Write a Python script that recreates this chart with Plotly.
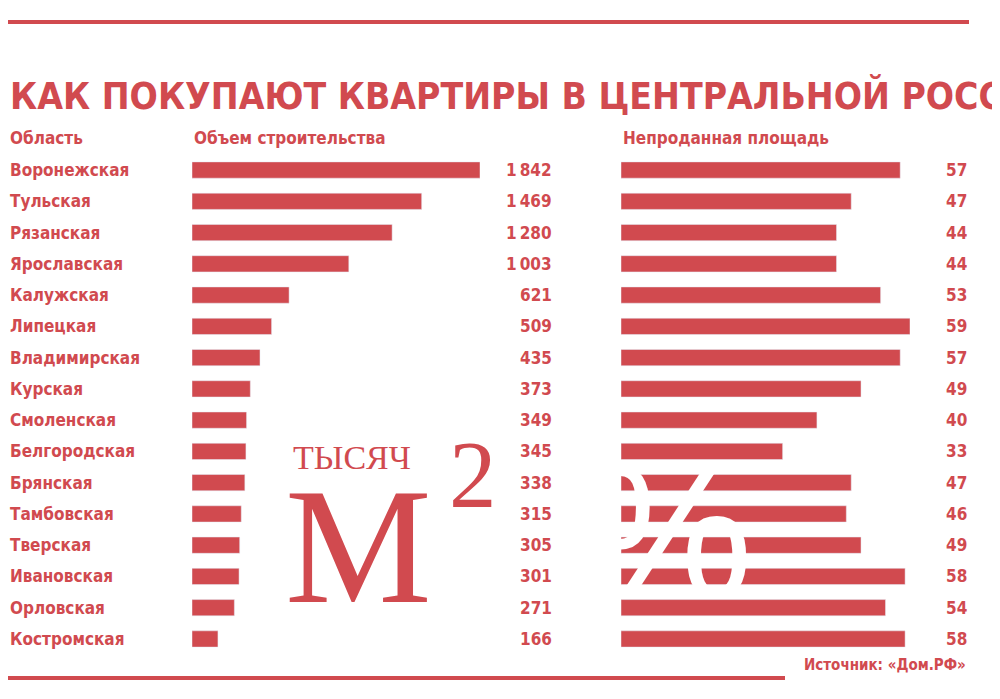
import plotly.graph_objects as go

RED = "#d14a4f"

regions = ["Воронежская", "Тульская", "Рязанская", "Ярославская", "Калужская", "Липецкая",
           "Владимирская", "Курская", "Смоленская", "Белгородская", "Брянская", "Тамбовская",
           "Тверская", "Ивановская", "Орловская", "Костромская"]
construction = [1842, 1469, 1280, 1003, 621, 509, 435, 373, 349, 345, 338, 315, 305, 301, 271, 166]
unsold = [57, 47, 44, 44, 53, 59, 57, 49, 40, 33, 47, 46, 49, 58, 54, 58]

W, H = 1000, 699
OFF = 8  # page body margin

def px(pix):
    return (pix - OFF) / W

def py(pix):
    return 1 - (pix - OFF) / H

fig = go.Figure()
fig.add_trace(go.Bar(y=regions, x=construction, orientation="h", marker_color=RED,
                     width=0.52, xaxis="x", yaxis="y", hoverinfo="x+y"))
fig.add_trace(go.Bar(y=regions, x=unsold, orientation="h", marker_color=RED,
                     width=0.52, xaxis="x2", yaxis="y", hoverinfo="x+y"))

fmt = lambda v: f"{v:,}".replace(",", "\u2009")
ann = []
lab_font = dict(family="DejaVu Sans Condensed", size=17, color=RED)
for r, c, u in zip(regions, construction, unsold):
    ann.append(dict(x=px(8), xref="paper", y=r, yref="y", text=f"<b>{r}</b>", showarrow=False,
                    xanchor="left", font=lab_font))
    ann.append(dict(x=px(554), xref="paper", y=r, yref="y", text=f"<b>{fmt(c)}</b>", showarrow=False,
                    xanchor="right", font=lab_font))
    ann.append(dict(x=px(969), xref="paper", y=r, yref="y", text=f"<b>{u}</b>", showarrow=False,
                    xanchor="right", font=lab_font))

ann += [
    dict(x=px(8), y=py(72), xref="paper", yref="paper", xanchor="left", showarrow=False,
         text="<b>КАК ПОКУПАЮТ КВАРТИРЫ В ЦЕНТРАЛЬНОЙ РОССИИ</b>",
         font=dict(family="DejaVu Sans Condensed", size=37, color=RED)),
    dict(x=px(8), y=py(126), xref="paper", yref="paper", xanchor="left", showarrow=False,
         text="<b>Область</b>", font=lab_font),
    dict(x=px(192), y=py(126), xref="paper", yref="paper", xanchor="left", showarrow=False,
         text="<b>Объем строительства</b>", font=lab_font),
    dict(x=px(621), y=py(126), xref="paper", yref="paper", xanchor="left", showarrow=False,
         text="<b>Непроданная площадь</b>", font=lab_font),
    dict(x=px(968), y=py(676), xref="paper", yref="paper", xanchor="right", showarrow=False,
         text="<b>Источник: «Дом.РФ»</b>", font=dict(family="DejaVu Sans Condensed", size=15, color=RED)),
    dict(x=px(352), y=py(478), xref="paper", yref="paper", showarrow=False,
         text="ТЫСЯЧ", font=dict(family="Liberation Serif", size=34, color=RED)),
    dict(x=px(358), y=py(640), xref="paper", yref="paper", showarrow=False,
         text="М", font=dict(family="Liberation Serif", size=165, color=RED)),
    dict(x=px(473), y=py(530), xref="paper", yref="paper", showarrow=False,
         text="2", font=dict(family="Liberation Serif", size=95, color=RED)),
    dict(x=px(755), y=py(640), xref="paper", yref="paper", showarrow=False,
         text="%", font=dict(family="Liberation Sans", size=190, color="white")),
]

shapes = [
    dict(type="line", xref="paper", yref="paper", x0=px(8), x1=px(969), y0=py(22), y1=py(22),
         line=dict(color=RED, width=4)),
    dict(type="line", xref="paper", yref="paper", x0=px(8), x1=px(785), y0=py(678), y1=py(678),
         line=dict(color=RED, width=4)),
]

fig.update_layout(
    width=W, height=H, margin=dict(l=0, r=0, t=0, b=0),
    paper_bgcolor="white", plot_bgcolor="white", showlegend=False,
    xaxis=dict(domain=[px(192), px(480)], range=[0, 1842], visible=False),
    xaxis2=dict(domain=[px(621), px(910)], range=[0, 59], visible=False),
    yaxis=dict(domain=[py(654.6), py(154.4)], autorange="reversed", visible=False),
    annotations=ann, shapes=shapes,
)
fig.write_html("out.html")
